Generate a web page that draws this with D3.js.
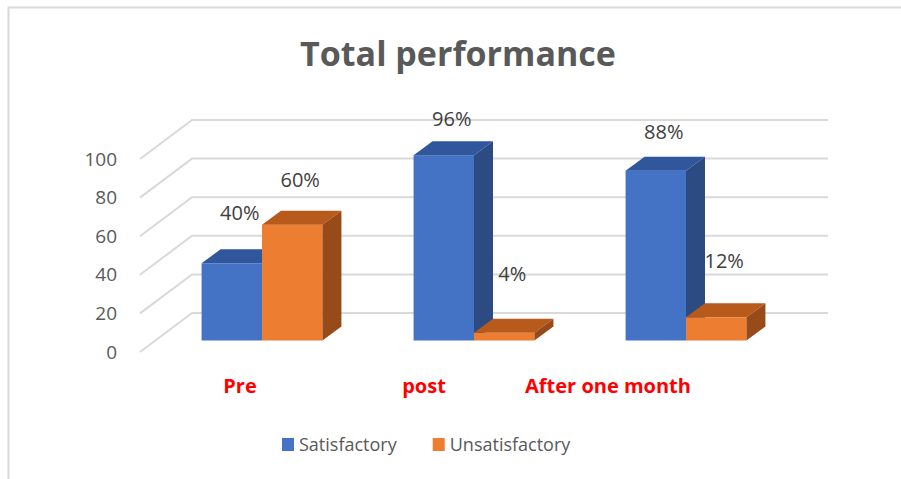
<!DOCTYPE html>
<html>
<head>
<meta charset="utf-8">
<script src="https://cdn.jsdelivr.net/npm/d3@7"></script>
<style>
  body { margin: 0; background: #fff; }
  svg { display: block; }
</style>
</head>
<body>
<div id="chart"></div>
<script>
// ---- data ----
const categories = ["Pre", "post", "After one month"];
const seriesNames = ["Satisfactory", "Unsatisfactory"];
const satisfactory = [40, 96, 88];
const unsatisfactory = [60, 4, 12];
const yTicks = [0, 20, 40, 60, 80, 100];
const chartTitle = "Total performance";

const WIDTH = 901, HEIGHT = 479;
const FONT = "'Open Sans', 'Noto Sans', sans-serif";

// 3D layout (oblique projection)
const FLOOR_FRONT = 352;   // y of value 0 on the front edge of the floor
const FLOOR_BACK = 313;    // y of value 0 on the back wall
const BAR_BASE = 340.5;    // y of value 0 at the bars' front face
const AXIS_X = 140, WALL_LEFT = 192, WALL_RIGHT = 828;
const DEPTH = { dx: 19, dy: -14 }; // bar depth

const colors = {
  Satisfactory: { front: "#4472c4", top: "#30569b", side: "#2b4b82" },
  Unsatisfactory: { front: "#ed7d31", top: "#b95a1d", side: "#984a18" }
};

const svg = d3.select("#chart").append("svg")
  .attr("width", WIDTH)
  .attr("height", HEIGHT);

// chart frame
svg.append("rect")
  .attr("x", 8.5).attr("y", 7.5)
  .attr("width", 1000).attr("height", 1000)
  .attr("fill", "none")
  .attr("stroke", "#d9d9d9")
  .attr("stroke-width", 2);

// scales
const y = d3.scaleLinear().domain([0, 100]).range([0, 193]);
const labelY = d3.scaleLinear().domain([0, 100]).range([281, 112]);
const x = d3.scaleBand()
  .domain(categories)
  .range([156, 792])
  .paddingInner(0.43)
  .paddingOuter(0.215);
const xInner = d3.scaleBand().domain(seriesNames).range([0, x.bandwidth()]);
const xLabel = d3.scalePoint().domain(categories).range([240, 608]);

// gridlines: floor diagonals + back wall
svg.append("g")
  .selectAll("path")
  .data(yTicks)
  .join("path")
    .attr("fill", "none")
    .attr("stroke", "#d9d9d9")
    .attr("stroke-width", 2)
    .attr("d", (t) => d3.line()([
      [AXIS_X, FLOOR_FRONT - y(t)],
      [WALL_LEFT, FLOOR_BACK - y(t)],
      [WALL_RIGHT, FLOOR_BACK - y(t)]
    ]));

// y axis labels
svg.append("g")
  .attr("font-family", FONT)
  .attr("font-size", 19)
  .attr("fill", "#595959")
  .attr("text-anchor", "end")
  .selectAll("text")
  .data(yTicks)
  .join("text")
    .attr("x", 117)
    .attr("y", (t) => FLOOR_FRONT - y(t))
    .attr("dy", "0.35em")
    .text((t) => t);

// bars
const bars = categories.flatMap((c, i) => [
  { cat: c, series: seriesNames[0], value: satisfactory[i] },
  { cat: c, series: seriesNames[1], value: unsatisfactory[i] }
]);

const barG = svg.append("g")
  .selectAll("g")
  .data(bars)
  .join("g");

const barX0 = (d) => x(d.cat) + xInner(d.series);
const barX1 = (d) => barX0(d) + xInner.bandwidth();
const barTop = (d) => BAR_BASE - y(d.value);

barG.append("rect")
  .attr("x", barX0)
  .attr("y", barTop)
  .attr("width", xInner.bandwidth())
  .attr("height", (d) => y(d.value))
  .attr("fill", (d) => colors[d.series].front);

barG.append("path")
  .attr("fill", (d) => colors[d.series].top)
  .attr("d", (d) => d3.line()([
    [barX0(d), barTop(d)],
    [barX0(d) + DEPTH.dx, barTop(d) + DEPTH.dy],
    [barX1(d) + DEPTH.dx, barTop(d) + DEPTH.dy],
    [barX1(d), barTop(d)]
  ]) + "Z");

barG.append("path")
  .attr("fill", (d) => colors[d.series].side)
  .attr("d", (d) => d3.line()([
    [barX1(d), barTop(d)],
    [barX1(d) + DEPTH.dx, barTop(d) + DEPTH.dy],
    [barX1(d) + DEPTH.dx, BAR_BASE + DEPTH.dy],
    [barX1(d), BAR_BASE]
  ]) + "Z");

// value labels
svg.append("g")
  .attr("font-family", FONT)
  .attr("font-size", 20)
  .attr("fill", "#404040")
  .attr("text-anchor", "middle")
  .selectAll("text")
  .data(bars)
  .join("text")
    .attr("x", (d) => barX0(d) + xInner.bandwidth() / 2 + 8)
    .attr("y", (d) => labelY(d.value))
    .attr("dy", "0.35em")
    .text((d) => d.value + "%");

// category labels
svg.append("g")
  .attr("font-family", FONT)
  .attr("font-weight", "bold")
  .attr("font-size", 20)
  .attr("fill", "#ff0000")
  .attr("text-anchor", "middle")
  .selectAll("text")
  .data(categories)
  .join("text")
    .attr("x", (c) => xLabel(c))
    .attr("y", 393)
    .text((c) => c);

// title
svg.append("text")
  .attr("x", 458)
  .attr("y", 66)
  .attr("text-anchor", "middle")
  .attr("font-family", FONT)
  .attr("font-weight", "bold")
  .attr("font-size", 34)
  .attr("fill", "#595959")
  .text(chartTitle);

// legend
const legend = svg.append("g")
  .attr("font-family", FONT)
  .attr("font-size", 18)
  .attr("fill", "#595959");

let lx = 282;
seriesNames.forEach((name) => {
  legend.append("rect")
    .attr("x", lx).attr("y", 438)
    .attr("width", 12).attr("height", 13)
    .attr("fill", colors[name].front);
  const t = legend.append("text")
    .attr("x", lx + 17)
    .attr("y", 445)
    .attr("dy", "0.35em")
    .text(name);
  lx += 17 + t.node().getComputedTextLength() + 36;
});
</script>
</body>
</html>
